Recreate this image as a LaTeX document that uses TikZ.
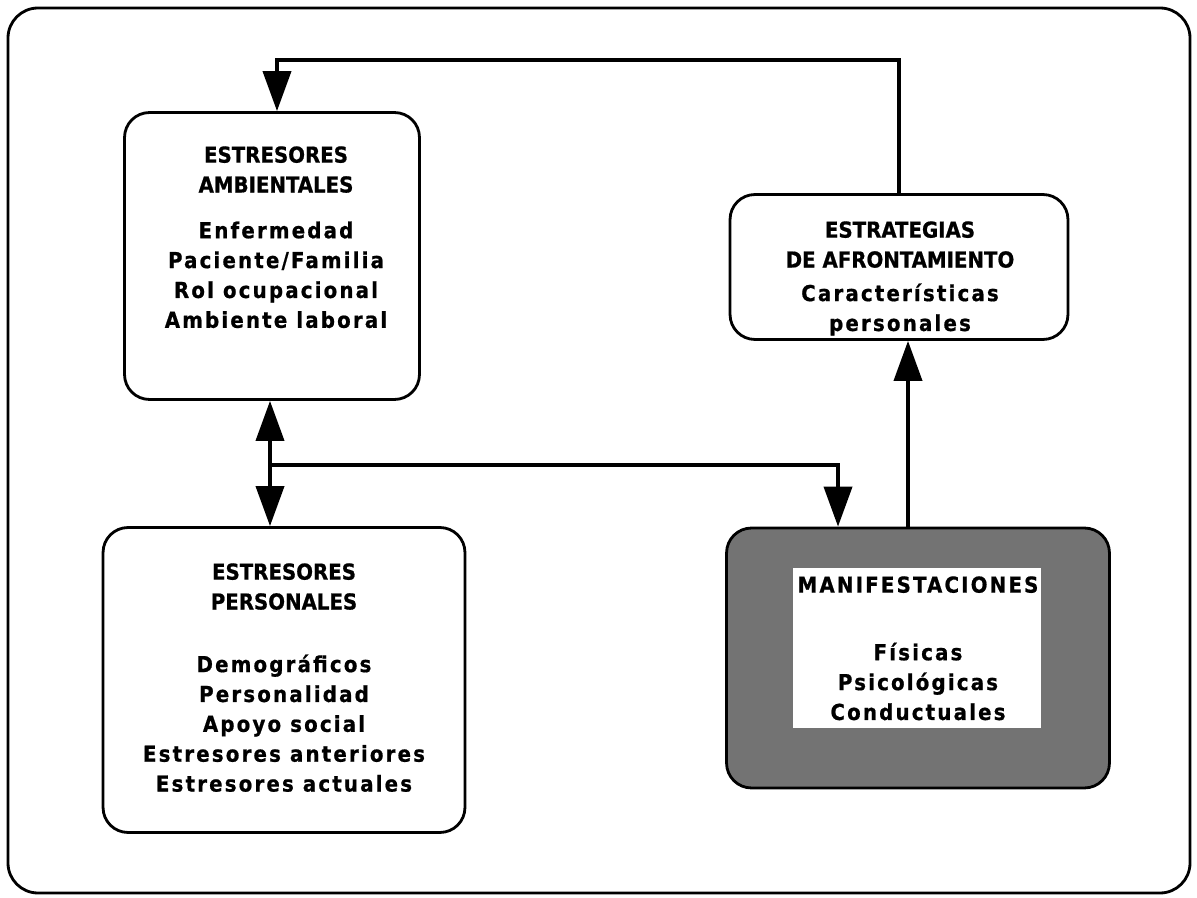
\documentclass[tikz,border=0pt]{standalone}
\usepackage{fontspec}
\setmainfont{DejaVu Sans Condensed}[BoldFeatures={FakeBold=0.8}]
\newfontfamily\itemfont{DejaVu Sans Condensed}[LetterSpace=10,BoldFeatures={FakeBold=0.8}]
\usepackage{tikz}
\usetikzlibrary{arrows.meta,positioning}

\begin{document}
\begin{tikzpicture}[x=0.02cm,y=-0.02cm,
  box/.style={draw,line width=1.6pt,rounded corners=0.5cm,inner sep=0pt},
  tit/.style={align=center,inner sep=0pt,anchor=north,font=\bfseries\fontsize{12.5}{17}\selectfont},
  itm/.style={align=center,inner sep=0pt,font=\itemfont\bfseries\fontsize{12.5}{17}\selectfont},
  link/.style={line width=2.2pt},
  tip/.style={-{Triangle[length=0.8cm,width=0.56cm]}}]
  \useasboundingbox (0,0) rectangle (1197,898);
  \draw[line width=1.6pt,rounded corners=0.6cm] (8,8) rectangle (1190,893); %Outer frame

  \node[box,minimum width=5.9cm,minimum height=5.74cm] (amb) at (272,256) {};   %Estresores ambientales
  \node[box,minimum width=6.76cm,minimum height=2.9cm] (estr) at (899,267) {};  %Estrategias
  \node[box,minimum width=7.24cm,minimum height=6.1cm] (pers) at (284,680) {};  %Estresores personales
  \node[box,fill=black!55,minimum width=7.66cm,minimum height=5.2cm] (man) at (918,658) {}; %Manifestaciones
  \node[fill=white,inner sep=0pt,minimum width=4.98cm,minimum height=3.2cm] (manin) at (917,648) {};

  \node[tit] (ambtit) at (276,146) {ESTRESORES\\AMBIENTALES};
  \node[itm,below=0.56cm of ambtit] (ambitm) {Enfermedad\\Paciente/Familia\\Rol ocupacional\\Ambiente laboral};

  \node[tit] (estrtit) at (900,221) {ESTRATEGIAS\\DE AFRONTAMIENTO};
  \node[itm,below=0.3cm of estrtit] (estritm) {Características\\personales};

  \node[tit] (perstit) at (284,563) {ESTRESORES\\PERSONALES};
  \node[itm,below=0.88cm of perstit] (persitm) {Demográficos\\Personalidad\\Apoyo social\\Estresores anteriores\\Estresores actuales};

  \node[itm,anchor=north] (mantit) at (918,576) {MANIFESTACIONES};
  \node[itm,below=0.98cm of mantit] (manitm) {Físicas\\Psicológicas\\Conductuales};

  \coordinate (top) at (900,60);
  \coordinate (mid) at (270,465);
  \coordinate (ain) at ([xshift=0.1cm]amb.north);
  \coordinate (min) at ([xshift=-1.6cm]man.north);
  \coordinate (mout) at ([xshift=-0.2cm]man.north);

  \draw[link,tip] (estr.north) -- (estr.north |- top) -| (ain);  %Feedback loop
  \draw[link,tip] (mid) -- (mid |- amb.south);
  \draw[link,tip] (mid) -- (mid |- pers.north);
  \draw[link,tip] (mid) -| (min);
  \draw[link,tip] (mout) -- (mout |- estr.south);
\end{tikzpicture}
\end{document}
